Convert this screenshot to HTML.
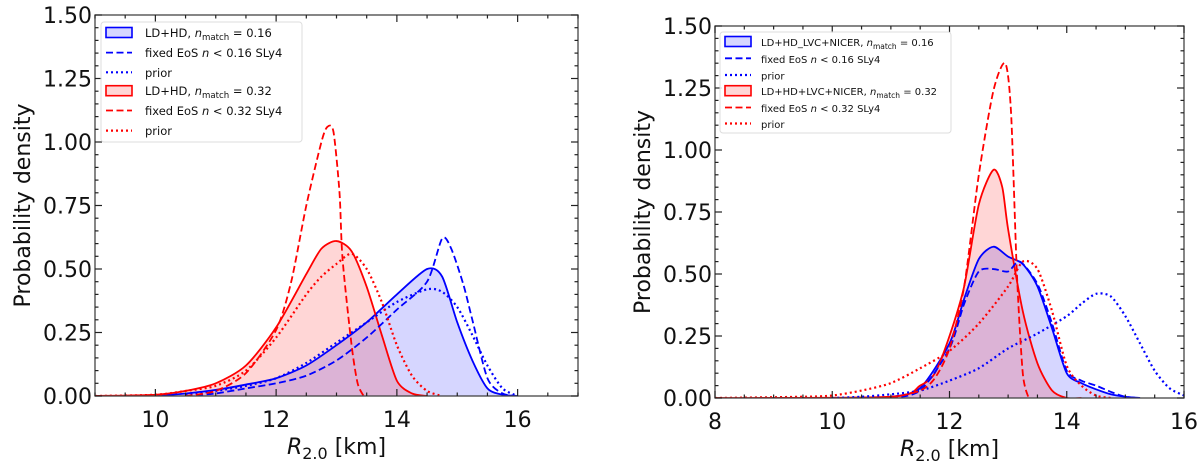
<!DOCTYPE html>
<html><head><meta charset="utf-8"><style>
html,body{margin:0;padding:0;background:#fff;width:1200px;height:464px;overflow:hidden}
svg{font-family:"DejaVu Sans","Liberation Sans",sans-serif}
</style></head><body>
<svg id="chart" width="1200" height="464" viewBox="0 0 1200 464" xmlns="http://www.w3.org/2000/svg"></svg>
<script>
// ---- data: left panel ----
const L_blueSolidX=[10,10.5,11,11.5,12,12.5,13,13.5,14,14.5,14.75,15,15.25,15.5,15.75,16];
const L_blueSolidY=[0,0.01,0.024,0.045,0.07,0.12,0.2,0.29,0.4,0.5,0.47,0.29,0.14,0.03,0.005,0];
const L_blueDashX=[10.5,11,11.5,12,12.5,13,13.5,14,14.5,14.75,14.9,15.1,15.25,15.5,15.75,16];
const L_blueDashY=[0,0.01,0.03,0.05,0.08,0.14,0.23,0.34,0.45,0.62,0.58,0.44,0.3,0.07,0.01,0];
const L_blueDotX=[10.5,11,11.5,12,12.5,13,13.5,14,14.5,14.75,15,15.25,15.5,15.75,16];
const L_blueDotY=[0.005,0.02,0.04,0.07,0.13,0.21,0.29,0.37,0.42,0.41,0.35,0.24,0.12,0.03,0];
const L_redSolidX=[9,10,10.5,11,11.5,12,12.5,12.75,13,13.25,13.5,13.75,14,14.25,14.5];
const L_redSolidY=[0,0.005,0.02,0.05,0.12,0.27,0.48,0.58,0.61,0.57,0.43,0.24,0.06,0.01,0];
const L_redDashX=[10.5,11,11.5,12,12.25,12.5,12.75,12.85,12.95,13.05,13.1,13.25,13.35,13.45];
const L_redDashY=[0,0.02,0.09,0.26,0.45,0.75,1.0,1.06,1.04,0.8,0.54,0.2,0.05,0];
const L_redDotX=[9,10,10.5,11,11.5,12,12.5,12.75,13,13.25,13.5,13.75,14,14.25,14.5,14.75];
const L_redDotY=[0,0.005,0.02,0.04,0.1,0.23,0.4,0.47,0.52,0.56,0.5,0.37,0.2,0.08,0.02,0];
// ---- data: right panel ----
const R_blueSolidX=[10.5,11,11.5,12,12.25,12.5,12.75,13,13.25,13.5,13.75,14,14.25,14.5,14.75,15,15.25];
const R_blueSolidY=[0,0.005,0.04,0.22,0.4,0.56,0.61,0.57,0.54,0.45,0.28,0.1,0.06,0.035,0.015,0.005,0];
const R_blueDashX=[11,11.5,12,12.25,12.5,12.75,13,13.2,13.5,13.75,14,14.25,14.5,14.75,15,15.25];
const R_blueDashY=[0,0.03,0.2,0.38,0.51,0.52,0.51,0.55,0.46,0.3,0.11,0.07,0.05,0.025,0.005,0];
const R_blueDotX=[10,10.5,11,11.5,12,12.5,13,13.5,14,14.25,14.5,14.75,15,15.25,15.5,15.75,16];
const R_blueDotY=[0,0.005,0.015,0.03,0.07,0.12,0.2,0.26,0.33,0.38,0.42,0.41,0.33,0.22,0.11,0.04,0.01];
const R_redSolidX=[8,11,11.5,11.75,12,12.25,12.5,12.75,12.9,13,13.25,13.5,13.75,14,14.25];
const R_redSolidY=[0,0.005,0.05,0.1,0.25,0.45,0.78,0.92,0.85,0.68,0.35,0.14,0.03,0,0];
const R_redDashX=[11,11.5,11.75,12,12.25,12.5,12.75,12.95,13.05,13.15,13.25,13.35];
const R_redDashY=[0,0.03,0.08,0.2,0.45,0.9,1.24,1.35,1.15,0.5,0.1,0];
const R_redDotX=[8,9.5,10,10.5,11,11.5,12,12.5,13,13.25,13.5,13.75,14,14.25,14.5,14.75];
const R_redDotY=[0,0.005,0.01,0.03,0.06,0.12,0.19,0.3,0.45,0.55,0.52,0.35,0.13,0.05,0.01,0];

const svg=document.getElementById('chart');
const NS='http://www.w3.org/2000/svg';
function mk(tag,attrs,parent){const e=document.createElementNS(NS,tag);for(const k in attrs)e.setAttribute(k,attrs[k]);(parent||svg).appendChild(e);return e;}

function smoothPath(pts){
  let d='M'+pts[0][0].toFixed(2)+','+pts[0][1].toFixed(2);
  for(let i=0;i<pts.length-1;i++){
    const p0=pts[i-1]||pts[i],p1=pts[i],p2=pts[i+1],p3=pts[i+2]||p2;
    const t=0.13;
    const c1x=p1[0]+(p2[0]-p0[0])*t, c1y=p1[1]+(p2[1]-p0[1])*t;
    const c2x=p2[0]-(p3[0]-p1[0])*t, c2y=p2[1]-(p3[1]-p1[1])*t;
    d+=' C'+c1x.toFixed(2)+','+c1y.toFixed(2)+' '+c2x.toFixed(2)+','+c2y.toFixed(2)+' '+p2[0].toFixed(2)+','+p2[1].toFixed(2);
  }
  return d;
}

function panel(cfg){
  const g=mk('g',{});
  
  
  const sx=v=>cfg.x0+(v-cfg.xmin)/(cfg.xmax-cfg.xmin)*(cfg.x1-cfg.x0);
  const sy=v=>cfg.y1-(v/1.5)*(cfg.y1-cfg.y0);
  const clip='clip-'+cfg.name;
  const cp=mk('clipPath',{id:clip},g);
  mk('rect',{x:cfg.x0,y:cfg.y0,width:cfg.x1-cfg.x0,height:cfg.y1-cfg.y0},cp);
  const plot=mk('g',{'clip-path':'url(#'+clip+')'},g);
  cfg.series.forEach(s=>{
    if(!s.fill)return;
    const pts=s.x.map((v,i)=>[sx(v),sy(s.y[i])]);
    const d=smoothPath(pts)+' L'+sx(s.x[s.x.length-1])+','+sy(0)+' L'+sx(s.x[0])+','+sy(0)+'Z';
    const p=mk('path',{d:d,fill:s.fill,stroke:'none'},plot);
    
    
  });
  cfg.series.forEach(s=>{
    const pts=s.x.map((v,i)=>[sx(v),sy(s.y[i])]);
    const p=mk('path',{d:smoothPath(pts),fill:'none',stroke:s.color,'stroke-width':s.dash==='dot'?2.2:1.8,'stroke-dasharray':s.dash==='dash'?'7,3.5':(s.dash==='dot'?'2,3':'none')},plot);
    
    
  });
  const fr=mk('rect',{x:cfg.x0,y:cfg.y0,width:cfg.x1-cfg.x0,height:cfg.y1-cfg.y0,fill:'none',stroke:'#444','stroke-width':1.3},g);
  
  
  for(let v=cfg.xmin;v<=cfg.xmax+1e-6;v+=0.5){
    const X=sx(v);const major=Math.abs(v%2)<1e-6;const len=major?7:3.5;
    mk('line',{x1:X,x2:X,y1:cfg.y1,y2:cfg.y1-len,stroke:'#222','stroke-width':1.2},g);
    mk('line',{x1:X,x2:X,y1:cfg.y0,y2:cfg.y0+len,stroke:'#222','stroke-width':1.2},g);
    if(major){const t=mk('text',{x:X,y:cfg.y1+31,'text-anchor':'middle','font-size':22,fill:'#111'},g);t.textContent=String(v);
      }
  }
  for(let i=0;i<=30;i++){
    const v=i*0.05;const Y=sy(v);const major=i%5===0;const len=major?7:3.5;
    mk('line',{x1:cfg.x0,x2:cfg.x0+len,y1:Y,y2:Y,stroke:'#222','stroke-width':1.2},g);
    mk('line',{x1:cfg.x1,x2:cfg.x1-len,y1:Y,y2:Y,stroke:'#222','stroke-width':1.2},g);
    if(major){const t=mk('text',{x:cfg.x0-3,y:Y+8,'text-anchor':'end','font-size':22,fill:'#111'},g);t.textContent=v.toFixed(2);
      }
  }
  const xl=mk('text',{x:(cfg.x0+cfg.x1)/2,y:cfg.y1+58,'text-anchor':'middle','font-size':22,fill:'#111'},g);
  xl.innerHTML='<tspan font-style="italic">R</tspan><tspan font-size="16" dy="5">2.0</tspan><tspan dy="-5"> [km]</tspan>';
  
  const yl=mk('text',{x:0,y:0,'text-anchor':'middle','font-size':22,fill:'#111',transform:'translate('+cfg.ylx+','+((cfg.y0+cfg.y1)/2)+') rotate(-90)'},g);
  yl.textContent='Probability density';
  
  const lg=mk('g',{},g);
  
  const L=cfg.legend;
  mk('rect',{x:L.x,y:L.y,width:L.w,height:L.h,rx:3,fill:'#fff','fill-opacity':0.85,stroke:'#ddd','stroke-width':1},lg);
  L.items.forEach((it,i)=>{
    const cy=L.rows[i];const hx=L.x+5;
    if(it.type==='patch'){mk('rect',{x:hx,y:cy-5,width:26,height:10,fill:it.fill,stroke:it.color,'stroke-width':1.6},lg);}
    else mk('line',{x1:hx,x2:hx+26,y1:cy,y2:cy,stroke:it.color,'stroke-width':it.type==='dot'?2.2:1.8,'stroke-dasharray':it.type==='dash'?'7,3.5':'2,3'},lg);
    const t=mk('text',{x:hx+L.tx,y:cy+4.5,'font-size':L.fs,fill:'#111'},lg);t.innerHTML=it.label;
    
  });
}
const BF='rgba(0,0,255,0.16)',RF='rgba(255,0,0,0.16)';
const nm=(a)=>'<tspan font-style="italic">n</tspan><tspan font-size="0.75em" dy="3">match</tspan><tspan dy="-3"> = '+a+'</tspan>';
panel({name:'left-panel',x0:95,x1:578,y0:15,y1:396,xmin:9,xmax:17,ylx:30,
 series:[
  {name:'left-blue-solid',x:L_blueSolidX,y:L_blueSolidY,color:'#0000ff',fill:BF},
  {name:'left-red-solid',x:L_redSolidX,y:L_redSolidY,color:'#ff0000',fill:RF},
  {name:'left-blue-dashed',x:L_blueDashX,y:L_blueDashY,color:'#0000ff',dash:'dash'},
  {name:'left-blue-dotted',x:L_blueDotX,y:L_blueDotY,color:'#0000ff',dash:'dot'},
  {name:'left-red-dashed',x:L_redDashX,y:L_redDashY,color:'#ff0000',dash:'dash'},
  {name:'left-red-dotted',x:L_redDotX,y:L_redDotY,color:'#ff0000',dash:'dot'}],
 legend:{x:101,y:22,w:201,h:120,fs:11.5,tx:39,rows:[32.5,52.6,72.3,90.7,110.5,130.6],items:[
  {type:'patch',color:'#0000ff',fill:BF,label:'LD+HD, '+nm('0.16')},
  {type:'dash',color:'#0000ff',label:'fixed EoS <tspan font-style="italic">n</tspan> &lt; 0.16 SLy4'},
  {type:'dot',color:'#0000ff',label:'prior'},
  {type:'patch',color:'#ff0000',fill:RF,label:'LD+HD, '+nm('0.32')},
  {type:'dash',color:'#ff0000',label:'fixed EoS <tspan font-style="italic">n</tspan> &lt; 0.32 SLy4'},
  {type:'dot',color:'#ff0000',label:'prior'}]}
});
panel({name:'right-panel',x0:715,x1:1184,y0:26,y1:398,xmin:8,xmax:16,ylx:650,
 series:[
  {name:'right-blue-solid',x:R_blueSolidX,y:R_blueSolidY,color:'#0000ff',fill:BF},
  {name:'right-red-solid',x:R_redSolidX,y:R_redSolidY,color:'#ff0000',fill:RF},
  {name:'right-blue-dashed',x:R_blueDashX,y:R_blueDashY,color:'#0000ff',dash:'dash'},
  {name:'right-blue-dotted',x:R_blueDotX,y:R_blueDotY,color:'#0000ff',dash:'dot'},
  {name:'right-red-dashed',x:R_redDashX,y:R_redDashY,color:'#ff0000',dash:'dash'},
  {name:'right-red-dotted',x:R_redDotX,y:R_redDotY,color:'#ff0000',dash:'dot'}],
 legend:{x:720,y:32,w:231,h:101,fs:10,tx:36,rows:[41.5,58.3,75,90.7,107.5,123.5],items:[
  {type:'patch',color:'#0000ff',fill:BF,label:'LD+HD_LVC+NICER, '+nm('0.16')},
  {type:'dash',color:'#0000ff',label:'fixed EoS <tspan font-style="italic">n</tspan> &lt; 0.16 SLy4'},
  {type:'dot',color:'#0000ff',label:'prior'},
  {type:'patch',color:'#ff0000',fill:RF,label:'LD+HD+LVC+NICER, '+nm('0.32')},
  {type:'dash',color:'#ff0000',label:'fixed EoS <tspan font-style="italic">n</tspan> &lt; 0.32 SLy4'},
  {type:'dot',color:'#ff0000',label:'prior'}]}
});
</script>
</body></html>
